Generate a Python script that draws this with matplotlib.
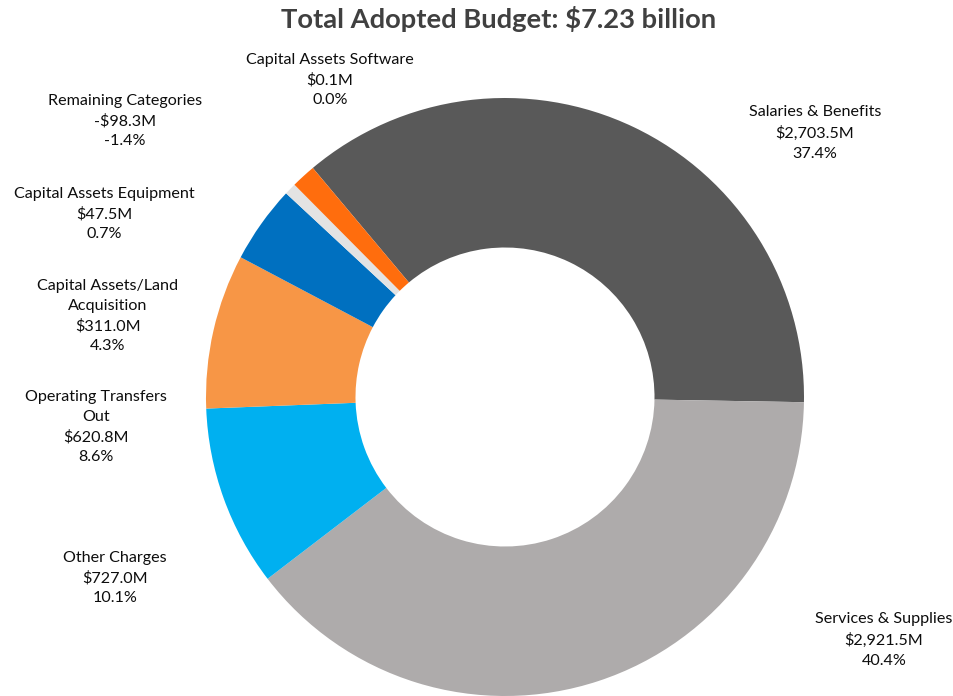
import numpy as np
import matplotlib
matplotlib.use("Agg")
import matplotlib.pyplot as plt

# Adopted budget by expenditure category (millions of dollars)
categories = [
    "Salaries & Benefits",
    "Services & Supplies",
    "Other Charges",
    "Operating Transfers\nOut",
    "Capital Assets/Land\nAcquisition",
    "Capital Assets Equipment",
    "Remaining Categories",
    "Capital Assets Software",
]
amounts = [2703.5, 2921.5, 727.0, 620.8, 311.0, 47.5, -98.3, 0.1]
colors = ["#595959", "#AEABAB", "#00B0F0", "#F79646",
          "#0070C0", "#E3E3E3", "#FF6D0D", "#7F7F7F"]

# label anchor points in figure pixels (x, y from top)
label_pos = [(815, 133), (884, 640), (115, 578), (96, 427),
             (108, 316), (104, 214), (125, 121), (330, 80)]

W, H = 954, 696
plt.rcParams["font.family"] = ["Lato", "DejaVu Sans"]

total = sum(amounts)
sizes = np.abs(amounts)

fig = plt.figure(figsize=(W / 100, H / 100), dpi=100)
cx, cy, R = 505, 397, 299
ax = fig.add_axes([(cx - R) / W, 1 - (cy + R) / H, 2 * R / W, 2 * R / H])
ax.pie(sizes, colors=colors, startangle=130, counterclock=False,
       radius=1, wedgeprops=dict(width=0.5, linewidth=0))
ax.set_xlim(-1, 1)
ax.set_ylim(-1, 1)
ax.set_axis_off()

for name, val, (px, py) in zip(categories, amounts, label_pos):
    sign = "-" if val < 0 else ""
    text = f"{name}\n{sign}${abs(val):,.1f}M\n{val / total * 100:.1f}%"
    fig.text(px / W, 1 - py / H, text, ha="center", va="center",
             fontsize=11.6, color="#0d0d0d", linespacing=1.55)

fig.text(499 / W, 1 - 19 / H, f"Total Adopted Budget: ${total / 1000:.2f} billion",
         ha="center", va="center", fontsize=19.7, fontweight="bold",
         color="#404040")

fig.savefig("out.png", dpi=100)
